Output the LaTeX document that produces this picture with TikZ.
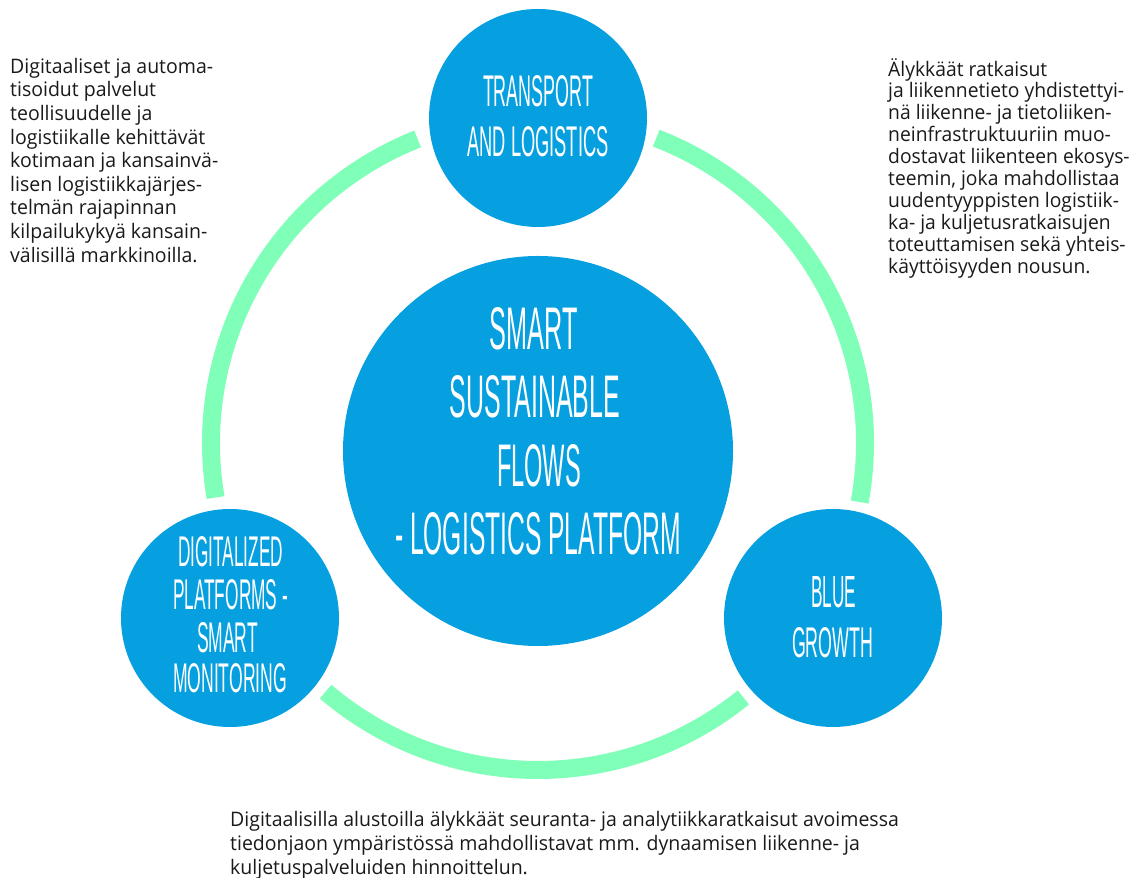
\documentclass[tikz,border=0pt]{standalone}
\usepackage{graphicx}
\usepackage{fontspec}
\setmainfont{Open Sans}
\newfontfamily\leftfont[FakeStretch=0.975]{Open Sans}
\newfontfamily\rightfont[FakeStretch=0.965]{Open Sans}
\newfontfamily\bottomfont[FakeStretch=0.975]{Open Sans}
\newfontfamily\condfont{Liberation Sans}
\definecolor{cblue}{RGB}{6,159,223}
\definecolor{cgreen}{RGB}{128,255,184}
\definecolor{ctext}{RGB}{26,26,26}
\newcommand{\capl}[3]{\resizebox{#1pt}{#2pt}{\condfont #3}}
\tikzset{
  bubble/.style={circle, fill=cblue, draw=none, inner sep=0pt},
  ringarc/.style={draw=cgreen, line width=18pt},
  captext/.style={anchor=base, inner sep=0pt, text=white},
  bodytext/.style={anchor=north west, inner sep=0pt, align=left, text=ctext},
}
\begin{document}
\begin{tikzpicture}[x=1pt,y=1pt]
\useasboundingbox (0,0) rectangle (1139,877);
\coordinate (ring) at (538,434);
% ring arcs
\draw[ringarc] (ring) ++(111.6:327) arc[start angle=111.6, end angle=189.6, radius=327];
\draw[ringarc] (ring) ++(229.5:327) arc[start angle=229.5, end angle=308.9, radius=327];
\draw[ringarc] (ring) ++(349.6:327) arc[start angle=349.6, end angle=428.8, radius=327];
% circles
\node[bubble, minimum size=218pt] (top) at (538,759) {};
\node[bubble, minimum size=390pt] (mid) at (538,426) {};
\node[bubble, minimum size=218pt] (left) at (230,259) {};
\node[bubble, minimum size=218pt] (right) at (833,259) {};
% top circle text
\node[captext] (t1) at (538,770) {\capl{110}{31}{TRANSPORT}};
\node[captext] (t2) at (538,720) {\capl{141}{30}{AND LOGISTICS}};
% center text
\node[captext] (m1) at (534,527) {\capl{88}{42}{SMART}};
\node[captext] (m2) at (535,459) {\capl{170}{42}{SUSTAINABLE}};
\node[captext] (m3) at (539,390) {\capl{84}{42}{FLOWS}};
\node[captext] (m4) at (538,322) {\capl{286}{42}{- LOGISTICS PLATFORM}};
% left circle text
\node[captext] (l1) at (230.5,310) {\capl{105}{30}{DIGITALIZED}};
\node[captext] (l2) at (230.5,267) {\capl{115}{30}{PLATFORMS -}};
\node[captext] (l3) at (227.5,224) {\capl{61}{30}{SMART}};
\node[captext] (l4) at (230,184) {\capl{114}{29}{MONITORING}};
% right circle text
\node[captext] (r1) at (833.5,269) {\capl{45}{31}{BLUE}};
\node[captext] (r2) at (832.5,219) {\capl{81}{30}{GROWTH}};
% body texts
\node[bodytext, font=\leftfont\fontsize{20}{23.6}\selectfont] (lefttext) at (10,819) {Digitaaliset ja automa-\\tisoidut palvelut\\teollisuudelle ja\\logistiikalle kehittävät\\kotimaan ja kansainvä-\\lisen logistiikkajärjes-\\telmän rajapinnan\\kilpailukykyä kansain-\\välisillä markkinoilla.};
\node[bodytext, font=\rightfont\fontsize{20}{21.9}\selectfont] (righttext) at (888,819) {Älykkäät ratkaisut\\ja liikennetieto yhdistettyi-\\nä liikenne- ja tietoliiken-\\neinfrastruktuuriin muo-\\dostavat liikenteen ekosys-\\teemin, joka mahdollistaa\\uudentyyppisten logistiik-\\ka- ja kuljetusratkaisujen\\toteuttamisen sekä yhteis-\\käyttöisyyden nousun.};
\node[bodytext, font=\bottomfont\fontsize{20}{24}\selectfont] (bottomtext) at (230,66) {Digitaalisilla alustoilla älykkäät seuranta- ja analytiikkaratkaisut avoimessa\\tiedonjaon ympäristössä mahdollistavat mm. dynaamisen liikenne- ja\\kuljetuspalveluiden hinnoittelun.};
\end{tikzpicture}
\end{document}
